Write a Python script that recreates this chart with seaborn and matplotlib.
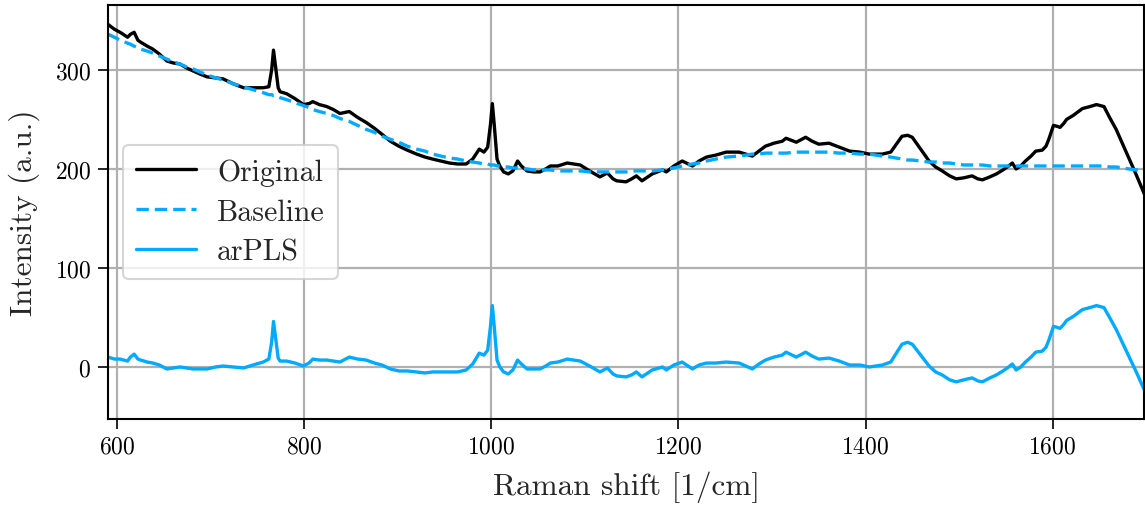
import matplotlib
matplotlib.use("Agg")
import matplotlib.pyplot as plt
import seaborn as sns
import pandas as pd

raman_shift = [590, 597, 603, 611, 614, 618, 622, 625, 632, 638, 645, 653, 660, 667, 674, 681, 688, 696,
               705, 713, 724, 735, 745, 756, 762, 765, 767, 769, 772, 774, 781, 790, 799, 805, 809, 816,
               824, 831, 838, 848, 857, 866, 875, 883, 892, 901, 910, 920, 929, 937, 946, 955, 964, 973,
               980, 987, 992, 996, 999, 1001, 1003, 1006, 1009, 1013, 1018, 1023, 1028, 1032, 1038, 1045,
               1052, 1058, 1063, 1071, 1081, 1088, 1095, 1105, 1116, 1124, 1130, 1134, 1144, 1150, 1155,
               1161, 1172, 1183, 1187, 1195, 1204, 1215, 1222, 1230, 1240, 1251, 1265, 1279, 1286, 1293,
               1302, 1311, 1315, 1326, 1336, 1343, 1350, 1361, 1372, 1383, 1394, 1404, 1418, 1427, 1433,
               1439, 1445, 1450, 1459, 1468, 1475, 1482, 1490, 1497, 1505, 1514, 1520, 1525, 1533, 1540,
               1547, 1553, 1557, 1561, 1566, 1571, 1577, 1582, 1589, 1593, 1596, 1601, 1605, 1608, 1612,
               1615, 1622, 1632, 1640, 1647, 1655, 1661, 1668, 1675, 1682, 1690, 1698]

original = [346, 341, 338, 333, 336, 338, 330, 328, 324, 321, 316, 309, 307, 306, 302, 299, 296, 293,
            292, 291, 286, 282, 282, 282, 283, 300, 320, 305, 282, 278, 276, 271, 265, 266, 268, 265,
            263, 260, 256, 258, 252, 247, 241, 235, 228, 223, 219, 215, 212, 210, 208, 206, 205, 205,
            210, 220, 217, 222, 245, 266, 245, 210, 203, 197, 195, 198, 208, 203, 198, 197,
            197, 200, 203, 203, 206, 205, 204, 198, 192, 196, 190, 188, 187, 190, 193,
            188, 195, 199, 197, 203, 208, 203, 208, 212, 214, 217, 217, 213, 218, 223,
            226, 228, 231, 227, 232, 228, 225, 226, 222, 218, 217, 215, 215, 217, 225,
            233, 234, 232, 220, 208, 202, 198, 193, 190, 191, 193, 190, 189, 192, 195,
            199, 203, 206, 200, 203, 208, 213, 218, 219, 223, 230, 244, 243, 242, 246,
            250, 254, 261, 263, 265, 263, 252, 240, 225, 210, 193, 175]

baseline = [336, 333, 330, 327, 326, 324, 322, 321, 319, 317, 314, 311, 308, 306, 303, 301, 298, 295,
            292, 290, 286, 283, 280, 277, 275, 275, 274, 274, 273, 272, 270, 267, 264, 262, 260, 258,
            256, 254, 251, 248, 244, 240, 237, 233, 230, 227, 223, 220, 218, 215, 213, 211, 210, 208,
            207, 206, 205, 205, 204, 204, 204, 203, 203, 202, 202, 201, 201, 200, 200, 199,
            199, 199, 199, 198, 198, 198, 198, 197, 197, 197, 197, 197, 197, 198, 198,
            198, 198, 199, 200, 201, 203, 205, 206, 208, 210, 212, 213, 215, 215, 216,
            216, 216, 216, 217, 217, 217, 217, 217, 216, 216, 215, 215, 213, 212, 211,
            210, 209, 209, 208, 207, 207, 206, 206, 205, 204, 204, 204, 204, 203, 203,
            203, 203, 203, 203, 203, 203, 203, 203, 203, 203, 203, 203, 203, 203, 203,
            203, 203, 203, 203, 203, 203, 202, 202, 201, 200, 199, 198]

arpls = [10, 8, 8, 6, 10, 13, 8, 7, 5, 4, 2, -2, -1, 0, -1, -2, -2, -2,
         0, 1, 0, -1, 2, 5, 8, 25, 46, 31, 9, 6, 6, 4, 1, 4, 8, 7,
         7, 6, 5, 10, 8, 7, 4, 2, -2, -4, -4, -5, -6, -5, -5, -5, -5, -3,
         3, 14, 12, 17, 41, 62, 41, 7, 0, -5, -7, -3, 7, 3, -2, -2,
         -2, 1, 4, 5, 8, 7, 6, 1, -5, -1, -7, -9, -10, -8, -5,
         -10, -3, 0, -3, 2, 5, -2, 2, 4, 4, 5, 4, -2, 3, 7,
         10, 12, 15, 10, 15, 11, 8, 9, 6, 2, 2, 0, 2, 5, 14,
         23, 25, 23, 12, 1, -5, -8, -13, -15, -13, -11, -14, -15, -11, -8,
         -4, 0, 3, -3, 0, 5, 10, 15, 16, 20, 27, 41, 40, 39, 43,
         47, 51, 58, 60, 62, 60, 50, 38, 24, 10, -6, -23]

x_ticks = [600, 800, 1000, 1200, 1400, 1600]
y_ticks = [0, 100, 200, 300]

df = pd.DataFrame({"x": raman_shift, "Original": original, "Baseline": baseline, "arPLS": arpls})

sns.set_style("ticks")
plt.rcParams["font.family"] = ["cmr10", "DejaVu Serif"]
plt.rcParams["mathtext.fontset"] = "cm"
plt.rcParams["axes.formatter.use_mathtext"] = True

fig = plt.figure(figsize=(11.45, 5.06), dpi=100)
ax = fig.add_axes([0.0943, 0.170, 0.905, 0.818])

blue = "#00aaff"
sns.lineplot(data=df, x="x", y="Original", ax=ax, color="black", lw=2.4, label="Original")
sns.lineplot(data=df, x="x", y="Baseline", ax=ax, color=blue, lw=2.4, label="Baseline",
             linestyle=(0, (3.7, 1.8)))
sns.lineplot(data=df, x="x", y="arPLS", ax=ax, color=blue, lw=2.4, label="arPLS")

ax.set_xlim(590, 1698)
ax.set_ylim(-52.5, 365.5)
ax.set_xticks(x_ticks)
ax.set_yticks(y_ticks)
ax.grid(True, color="#b0b0b0", lw=1.6)
ax.set_axisbelow(True)
for s in ax.spines.values():
    s.set_color("black")
    s.set_linewidth(1.5)
ax.tick_params(axis="both", direction="out", length=7, width=1.2, labelsize=17, colors="black",
               pad=5)
ax.set_xlabel("Raman shift [1/cm]", fontsize=22.5, labelpad=9)
ax.set_ylabel("Intensity (a.u.)", fontsize=22.5, labelpad=11)

leg = ax.legend(loc="center left", fontsize=21.5, frameon=True, fancybox=True, framealpha=0.8,
                borderaxespad=0.5, handlelength=2.0, borderpad=0.45, labelspacing=0.42,
                handletextpad=0.7)
leg.get_frame().set_edgecolor("#cccccc")
leg.get_frame().set_linewidth(1.5)

fig.savefig("out.png", dpi=100)
